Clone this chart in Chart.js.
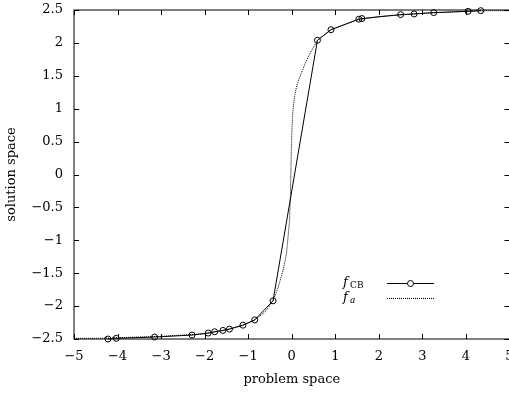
<!DOCTYPE html>
<html>
<head>
<meta charset="utf-8">
<script src="https://cdn.jsdelivr.net/npm/chart.js@4/dist/chart.umd.min.js"></script>
<style>
  body { margin: 0; background: #fff; }
  #wrap { width: 509px; height: 395px; position: relative; }
</style>
</head>
<body>
<div id="wrap"><canvas id="chart"></canvas></div>
<script>
// f_CB sample points (circles)
const cbX = [-4.22, -4.03, -3.15, -2.29, -1.92, -1.77, -1.58, -1.43, -1.12, -0.85, -0.43,
             0.59, 0.90, 1.54, 1.61, 2.50, 2.81, 3.26, 4.05, 4.34];
const cbY = [-2.50, -2.49, -2.47, -2.44, -2.41, -2.39, -2.37, -2.35, -2.29, -2.21, -1.92,
             2.04, 2.20, 2.36, 2.37, 2.43, 2.44, 2.46, 2.48, 2.49];

// f_a curve (dotted)
const faX = [-5, -4.5, -4, -3, -2, -1.5, -1.12, -0.85, -0.6, -0.43, -0.31, -0.2, -0.12, -0.085,
             -0.05, -0.03, -0.015, 0, 0.016, 0.03, 0.06, 0.108, 0.16, 0.22, 0.31, 0.41, 0.59, 0.9, 1.5, 2, 3, 4, 4.5, 5];
const faY = [-2.49, -2.49, -2.48, -2.46, -2.42, -2.36, -2.29, -2.21, -2.08, -1.92, -1.71, -1.46, -1.2, -0.95,
             -0.7, -0.3, 0.2, 0.6, 0.85, 1.0, 1.17, 1.33, 1.44, 1.54, 1.69, 1.83, 2.04, 2.2, 2.35, 2.4, 2.45, 2.48, 2.49, 2.49];

const xTicks = [-5, -4, -3, -2, -1, 0, 1, 2, 3, 4, 5];
const yTicks = [-2.5, -2, -1.5, -1, -0.5, 0, 0.5, 1, 1.5, 2, 2.5];

const FONT = 'DejaVu Serif';

function fmt(v) {
    return String(v).replace('-', '\u2212');
}

function pts(xs, ys) {
    let out = [];
    for (let i = 0; i < xs.length; i++) out.push({x: xs[i], y: ys[i]});
    return out;
}

// plot box runs right up to the canvas edge, the "5" label gets cut like in the original
const stretch = {
    id: 'stretch',
    afterLayout(chart) {
        const xs = chart.scales.x;
        xs.right = 509.5;
        xs.width = xs.right - xs.left;
        xs.configure();
        chart.chartArea.right = 509.5;
        chart.chartArea.width = chart.chartArea.right - chart.chartArea.left;
    }
};

// inward tick marks on all four sides, plus the frame
const frame = {
    id: 'frame',
    afterDatasetsDraw(chart) {
        const {ctx, chartArea: a, scales} = chart;
        ctx.save();
        ctx.strokeStyle = '#000';
        ctx.lineWidth = 1;
        ctx.strokeRect(a.left, a.top, a.right - a.left, a.bottom - a.top);
        ctx.beginPath();
        xTicks.forEach(v => {
            let px = Math.round(scales.x.getPixelForValue(v)) + 0.5;
            ctx.moveTo(px, a.bottom); ctx.lineTo(px, a.bottom - 5);
            ctx.moveTo(px, a.top); ctx.lineTo(px, a.top + 5);
        });
        yTicks.forEach(v => {
            let py = Math.round(scales.y.getPixelForValue(v)) + 0.5;
            ctx.moveTo(a.left, py); ctx.lineTo(a.left + 5, py);
            ctx.moveTo(a.right, py); ctx.lineTo(a.right - 5, py);
        });
        ctx.stroke();
        ctx.restore();
    }
};

// key box: italic f with subscript, then line sample
const key = {
    id: 'key',
    afterDatasetsDraw(chart) {
        const ctx = chart.ctx;
        ctx.save();
        chart.data.datasets.forEach((ds, i) => {
            const y = 283 + i * 15;
            const [main, sub] = ds.label.split('_');
            ctx.fillStyle = '#000';
            ctx.textBaseline = 'middle';
            ctx.textAlign = 'left';
            ctx.font = 'italic 13px ' + FONT;
            ctx.fillText(main, 343, y);
            ctx.font = (sub === 'a' ? 'italic ' : '') + '9px ' + FONT;
            ctx.fillText(sub, 350, y + 3);
            ctx.strokeStyle = '#000';
            ctx.lineWidth = 1;
            ctx.setLineDash(ds.borderDash || []);
            ctx.beginPath();
            ctx.moveTo(387, y + 0.5); ctx.lineTo(434, y + 0.5);
            ctx.stroke();
            ctx.setLineDash([]);
            if (ds.pointRadius > 0) {
                ctx.beginPath();
                ctx.arc(410.5, y + 0.5, 3, 0, Math.PI * 2);
                ctx.fillStyle = '#fff';
                ctx.fill();
                ctx.stroke();
            }
        });
        ctx.restore();
    }
};

const data = {
    datasets: [{
        label: 'f_CB',
        data: pts(cbX, cbY),
        showLine: true,
        borderColor: '#000',
        borderWidth: 1,
        pointRadius: 3,
        pointBorderColor: '#000',
        pointBorderWidth: 1,
        pointBackgroundColor: 'rgba(0,0,0,0)',
        tension: 0,
        clip: false
    }, {
        label: 'f_a',
        data: pts(faX, faY),
        showLine: true,
        borderColor: '#000',
        borderWidth: 1,
        borderDash: [1, 1],
        pointRadius: 0,
        tension: 0
    }]
};

const config = {
    type: 'scatter',
    data: data,
    options: {
        responsive: true,
        maintainAspectRatio: false,
        animation: false,
        layout: { padding: { top: 10, right: 0, left: 0, bottom: 0 } },
        plugins: { legend: { display: false }, tooltip: { enabled: false } },
        scales: {
            x: {
                type: 'linear', min: -5, max: 5,
                afterBuildTicks: s => { s.ticks = xTicks.map(v => ({value: v})); },
                afterFit: s => { s.height = 56; s.paddingLeft = 0; s.paddingRight = 0; },
                grid: { display: false, drawTicks: false },
                border: { display: false },
                ticks: { padding: 10, color: '#000', font: { family: FONT, size: 13 },
                         maxRotation: 0, autoSkip: false, callback: v => fmt(v) },
                title: { display: true, text: 'problem space', color: '#000',
                         font: { family: FONT, size: 13 }, padding: { top: 0, bottom: 8 } }
            },
            y: {
                type: 'linear', min: -2.5, max: 2.5,
                afterBuildTicks: s => { s.ticks = yTicks.map(v => ({value: v})); },
                afterFit: s => { s.width = 74; s.paddingTop = 0; s.paddingBottom = 0; },
                grid: { display: false, drawTicks: false },
                border: { display: false },
                ticks: { padding: 11, color: '#000', font: { family: FONT, size: 13 },
                         autoSkip: false, callback: v => fmt(v) },
                title: { display: true, text: 'solution space', color: '#000',
                         font: { family: FONT, size: 13 }, padding: { top: 4, bottom: 0 } }
            }
        }
    },
    plugins: [stretch, frame, key]
};

new Chart(document.getElementById('chart').getContext('2d'), config);
</script>
</body>
</html>
